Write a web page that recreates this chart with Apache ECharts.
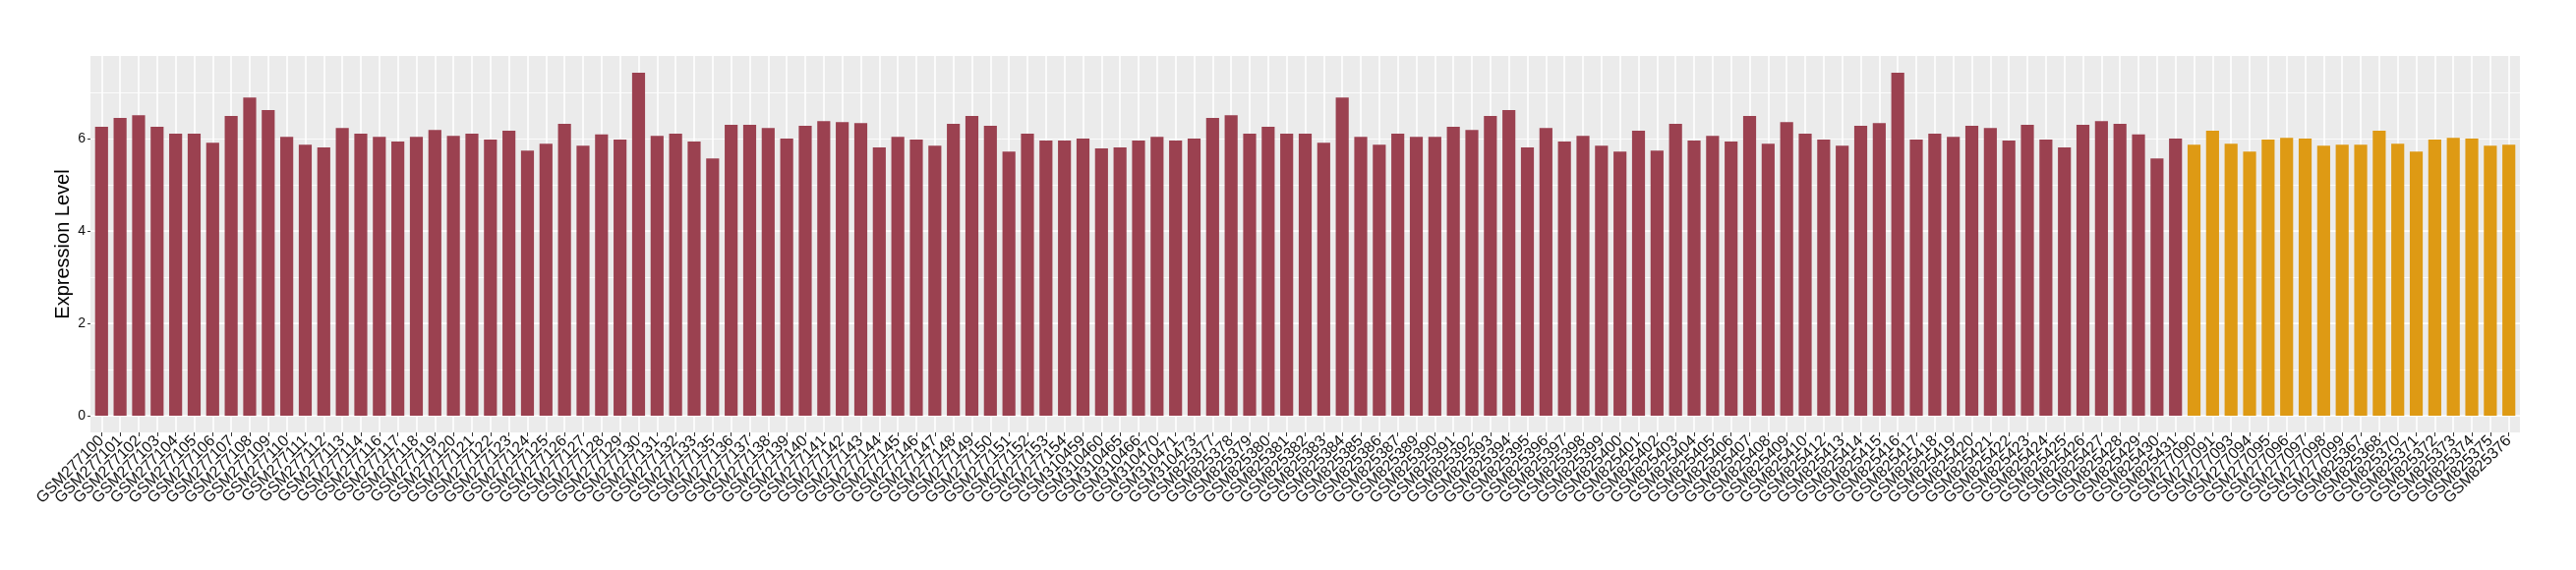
<!DOCTYPE html>
<html><head><meta charset="utf-8">
<script src="https://cdn.jsdelivr.net/npm/echarts@6/dist/echarts.min.js"></script>
<style>html,body{margin:0;padding:0;background:#fff}#c{width:2620px;height:580px}</style>
</head><body><div id="c"></div>
<script>
const redSamples = [
'GSM277100','GSM277101','GSM277102','GSM277103','GSM277104','GSM277105','GSM277106','GSM277107','GSM277108','GSM277109',
'GSM277110','GSM277111','GSM277112','GSM277113','GSM277114','GSM277116','GSM277117','GSM277118','GSM277119','GSM277120',
'GSM277121','GSM277122','GSM277123','GSM277124','GSM277125','GSM277126','GSM277127','GSM277128','GSM277129','GSM277130',
'GSM277131','GSM277132','GSM277133','GSM277135','GSM277136','GSM277137','GSM277138','GSM277139','GSM277140','GSM277141',
'GSM277142','GSM277143','GSM277144','GSM277145','GSM277146','GSM277147','GSM277148','GSM277149','GSM277150','GSM277151',
'GSM277152','GSM277153','GSM277154','GSM310459','GSM310460','GSM310465','GSM310466','GSM310470','GSM310471','GSM310473',
'GSM825377','GSM825378','GSM825379','GSM825380','GSM825381','GSM825382','GSM825383','GSM825384','GSM825385','GSM825386',
'GSM825387','GSM825389','GSM825390','GSM825391','GSM825392','GSM825393','GSM825394','GSM825395','GSM825396','GSM825397',
'GSM825398','GSM825399','GSM825400','GSM825401','GSM825402','GSM825403','GSM825404','GSM825405','GSM825406','GSM825407',
'GSM825408','GSM825409','GSM825410','GSM825412','GSM825413','GSM825414','GSM825415','GSM825416','GSM825417','GSM825418',
'GSM825419','GSM825420','GSM825421','GSM825422','GSM825423','GSM825424','GSM825425','GSM825426','GSM825427','GSM825428',
'GSM825429','GSM825430','GSM825431'];
const redValues = [
6.26,6.45,6.51,6.26,6.11,6.11,5.91,6.49,6.89,6.62,
6.04,5.87,5.81,6.23,6.11,6.04,5.94,6.04,6.19,6.06,
6.11,5.98,6.17,5.74,5.89,6.32,5.85,6.09,5.98,7.43,
6.06,6.11,5.94,5.57,6.30,6.30,6.23,6.00,6.28,6.38,
6.36,6.34,5.81,6.04,5.98,5.85,6.32,6.49,6.28,5.72,
6.11,5.96,5.96,6.00,5.79,5.81,5.96,6.04,5.96,6.00,
6.45,6.51,6.11,6.26,6.11,6.11,5.91,6.89,6.04,5.87,
6.11,6.04,6.04,6.26,6.19,6.49,6.62,5.81,6.23,5.94,
6.06,5.85,5.72,6.17,5.74,6.32,5.96,6.06,5.94,6.49,
5.89,6.36,6.11,5.98,5.85,6.28,6.34,7.43,5.98,6.11,
6.04,6.28,6.23,5.96,6.30,5.98,5.81,6.30,6.38,6.32,
6.09,5.57,6.00];
const orangeSamples = [
'GSM277090','GSM277091','GSM277093','GSM277094','GSM277095','GSM277096','GSM277097','GSM277098','GSM277099',
'GSM825367','GSM825368','GSM825370','GSM825371','GSM825372','GSM825373','GSM825374','GSM825375','GSM825376'];
const orangeValues = [
5.87,6.17,5.89,5.72,5.98,6.02,6.00,5.85,5.87,
5.87,6.17,5.89,5.72,5.98,6.02,6.00,5.85,5.87];
const yTickValues = [0, 2, 4, 6];
const yTitle = 'Expression Level';

const RED = '#9b4150', ORANGE = '#de9a14';
const FONT = '"Liberation Sans", Arial, sans-serif';
const TEXT = '#111111';
const categories = redSamples.concat(orangeSamples);
const barData = redValues.map(v => ({value: v, itemStyle: {color: RED}}))
  .concat(orangeValues.map(v => ({value: v, itemStyle: {color: ORANGE}})));

const W = 2620;
const pL = 92, pR = 57, pT = 57, pB = 140, zeroB = 157;
const n = categories.length;
const band = (W - pL - pR) / (n + 0.2);
const yMax = 7.79;

const chart = echarts.init(document.getElementById('c'), null, {renderer: 'canvas'});
chart.setOption({
  animation: false,
  textStyle: {fontFamily: FONT},
  grid: [
    {left: pL, right: pR, top: pT, bottom: pB, show: true, backgroundColor: '#ebebeb', borderWidth: 0, z: -5},
    {left: pL + 0.6 * band, right: pR + 0.6 * band, top: pT, bottom: pB},
    {left: pL + 0.1 * band, right: pR + 0.1 * band, top: pT, bottom: zeroB},
    {left: pL, right: pR, top: pT, bottom: zeroB}
  ],
  xAxis: [
    {gridIndex: 0, type: 'value', show: false},
    {gridIndex: 1, type: 'category', data: categories, boundaryGap: false,
      axisLine: {show: false},
      axisTick: {show: true, interval: 0, length: 4, lineStyle: {color: '#333333', width: 1}},
      axisLabel: {interval: 0, rotate: 45, fontSize: 16, color: TEXT, margin: 6, fontFamily: FONT},
      splitLine: {show: true, interval: 0, lineStyle: {color: '#ffffff', width: 1.6}}},
    {gridIndex: 2, type: 'category', data: categories, show: false},
    {gridIndex: 3, type: 'value', show: false}
  ],
  yAxis: [
    {gridIndex: 0, type: 'value', min: 0, max: 1,
      axisLine: {show: false}, axisTick: {show: false}, axisLabel: {show: false}, splitLine: {show: false},
      name: yTitle, nameLocation: 'middle', nameGap: 18,
      nameTextStyle: {fontSize: 20, color: '#000000', fontFamily: FONT}},
    {gridIndex: 1, type: 'value', show: false},
    {gridIndex: 2, type: 'value', min: 0, max: yMax, show: false},
    {gridIndex: 3, type: 'value', min: 0, max: yMax, interval: 2, position: 'left',
      axisLine: {show: false},
      axisTick: {show: true, length: 3, customValues: yTickValues, lineStyle: {color: '#333333', width: 1}},
      axisLabel: {customValues: yTickValues, fontSize: 14, color: TEXT, margin: 5, fontFamily: FONT,
        formatter: v => (yTickValues.indexOf(v) >= 0 ? String(v) : '')},
      splitLine: {show: true, showMaxLine: false, lineStyle: {color: '#ffffff', width: 1.6}}},
    {gridIndex: 3, type: 'value', min: 0, max: yMax, interval: 1, position: 'left',
      axisLine: {show: false}, axisTick: {show: false}, axisLabel: {show: false},
      splitLine: {show: true, showMaxLine: false, lineStyle: {color: '#ffffff', width: 0.8}}}
  ],
  series: [{
    type: 'bar', xAxisIndex: 2, yAxisIndex: 2, data: barData,
    barCategoryGap: '30%', z: 2
  }]
});
</script>
</body></html>
